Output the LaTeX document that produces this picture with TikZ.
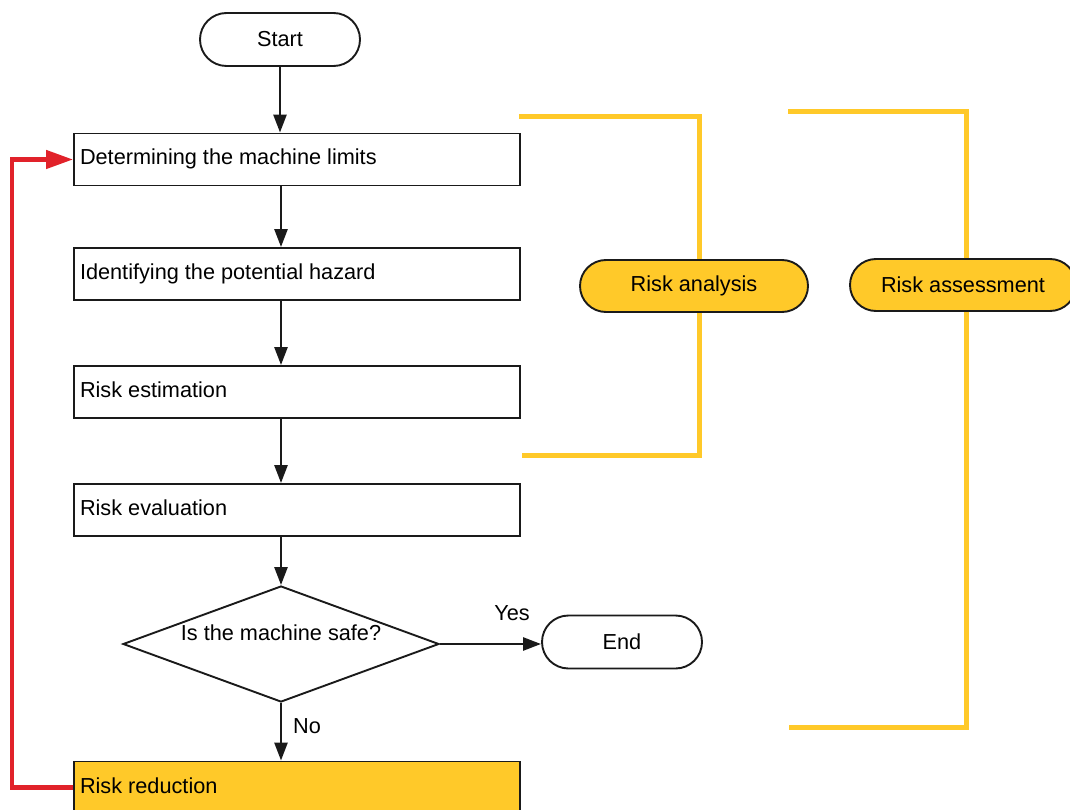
\documentclass[tikz,border=0pt]{standalone}
\usepackage{fontspec}
\setmainfont{Liberation Sans}
\usetikzlibrary{arrows.meta,shapes.misc,shapes.geometric}
\definecolor{RiskYellow}{HTML}{FFC929}
\definecolor{RiskRed}{HTML}{E1222A}
\definecolor{LineBlack}{HTML}{1A1A1A}

\begin{document}
\begin{tikzpicture}[x=1pt, y=-1pt,
  font=\fontsize{21.7}{26}\selectfont,
  terminal/.style={draw=LineBlack, line width=1.9pt, rounded rectangle, minimum width=160pt, minimum height=53pt, inner sep=0pt},
  stepbox/.style={draw=LineBlack, line width=1.9pt, rectangle, minimum width=446pt, minimum height=52pt, text width=434pt, inner xsep=6pt, inner ysep=0pt, align=flush left, text height=16pt, text depth=5pt},
  decision/.style={draw=LineBlack, line width=1.9pt, diamond, aspect=2.72, minimum width=316pt, minimum height=116pt, inner sep=0pt},
  phase/.style={draw=LineBlack, line width=1.9pt, fill=RiskYellow, rounded rectangle, minimum height=52pt, inner sep=0pt},
  flow/.style={draw=LineBlack, line width=2.6pt, -{Triangle[length=18pt, width=13pt]}},
  loop/.style={draw=RiskRed, line width=4.5pt, -{Triangle[length=27pt, width=18pt]}},
  bracket/.style={draw=RiskYellow, line width=5pt},
]

  % Seitenrahmen
  \useasboundingbox (0,0) rectangle (1070,810);

  % Makro für die Prozessschritte
  % Parameter: 1=Name, 2=y-Mitte, 3=Text
  \def\processstep#1#2#3{
    \node[stepbox] (#1) at (297,#2) {#3};
  }

  % Ablauf
  \node[terminal] (start) at (280,39.5) {Start};
  \processstep{limits}{159.5}{Determining the machine limits}
  \processstep{hazard}{274}{Identifying the potential hazard}
  \processstep{estimate}{392}{Risk estimation}
  \processstep{evaluate}{510}{Risk evaluation}
  \node[decision] (safe) at (281,644) {\raisebox{4pt}[0pt][0pt]{Is the machine safe?}};
  \node[terminal] (end) at (622,642) {End};
  \node[stepbox, fill=RiskYellow] (reduce) at (297,787.5) {Risk reduction};

  % Pfeile
  \draw[flow] (start.south) -- (start.south |- limits.north);
  \draw[flow] (limits.south -| safe.north) -- (hazard.north -| safe.north);
  \draw[flow] (hazard.south -| safe.north) -- (estimate.north -| safe.north);
  \draw[flow] (estimate.south -| safe.north) -- (evaluate.north -| safe.north);
  \draw[flow] (evaluate.south -| safe.north) -- (safe.north);
  \draw[flow] (safe.east) -- (safe.east -| end.west);
  \draw[flow] (safe.south) -- (reduce.north -| safe.south);
  \node (yes) at (512,613) {Yes};
  \node (no) at (307,726) {No};

  % Rückführung
  \draw[loop] (reduce.west) -- ++(-61,0) |- (limits.west);

  % Klammern der Phasen
  \node[phase, minimum width=228pt] (analysis) at (694,286) {Risk analysis};
  \node[phase, minimum width=226pt] (assessment) at (963,285) {Risk assessment};
  \coordinate (analysis top) at (519,117);
  \coordinate (analysis bottom) at (522,455);
  \coordinate (assessment top) at (788,112);
  \coordinate (assessment bottom) at (789,727);
  \draw[bracket] (analysis top) -| ([xshift=5pt]analysis.north);
  \draw[bracket] ([xshift=5pt]analysis.south) |- (analysis bottom);
  \draw[bracket] (assessment top) -| ([xshift=3pt]assessment.north);
  \draw[bracket] ([xshift=3pt]assessment.south) |- (assessment bottom);

\end{tikzpicture}
\end{document}
